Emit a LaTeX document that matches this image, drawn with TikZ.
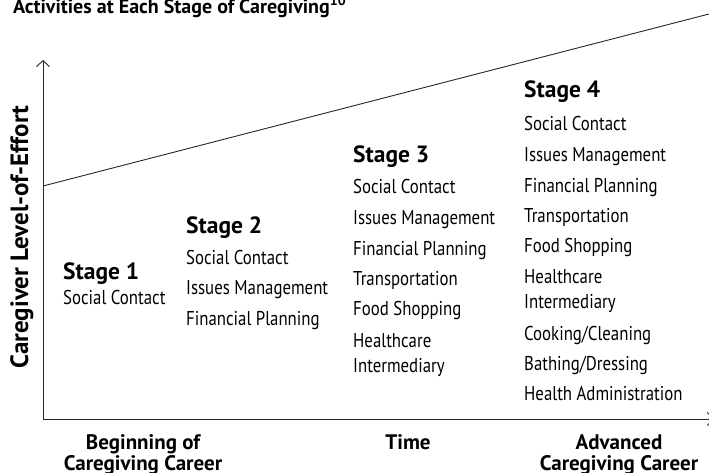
\documentclass[tikz,border=0pt]{standalone}
\usepackage{fontspec}
\setmainfont{PT Sans}
\newfontfamily\narrowfont[FakeStretch=0.84]{PT Sans}
\usetikzlibrary{arrows.meta}

\tikzset{
    stagehead/.style={font=\bfseries\fontsize{23.5}{26}\selectfont, anchor=base west, inner sep=0pt},
    activity/.style={font=\narrowfont\fontsize{20}{24}\selectfont, anchor=base west, inner sep=0pt},
    axislabel/.style={font=\bfseries\fontsize{21}{24}\selectfont, anchor=base, inner sep=0pt},
    axisline/.style={line width=0.9pt, draw=black!85, -{Straight Barb[length=6pt,width=13pt]}},
}

\begin{document}
\begin{tikzpicture}[x=1pt,y=-1pt]
    \useasboundingbox (0,0) rectangle (709,472);

    % Title (cut at the top edge)
    \node[font=\bfseries\fontsize{20}{24}\selectfont, anchor=base west, inner sep=0pt] (title) at (13,13)
        {Activities at Each Stage of Caregiving\textsuperscript{10}};

    % Axes
    \coordinate (origin) at (43,419);
    \coordinate (ytop) at (43,60);
    \coordinate (xend) at (714,419);
    \draw[axisline] (origin) -- (ytop); % y-axis
    \draw[axisline] (origin) -- (xend); % x-axis

    % Level-of-effort line
    \coordinate (effort0) at (43,186);
    \coordinate (effort1) at (709,14);
    \draw[line width=0.9pt, black!85] (effort0) -- (effort1);

    % Axis labels
    \node[font=\bfseries\fontsize{25}{28}\selectfont, rotate=90, anchor=base, inner sep=0pt] (ylabel) at (28,237) {Caregiver Level-of-Effort};
    \node[axislabel] (begin1) at (143,449) {Beginning of};
    \node[axislabel] (begin2) at (143,470) {Caregiving Career};
    \node[axislabel] (time) at (408,449) {Time};
    \node[axislabel] (adv1) at (619,449) {Advanced};
    \node[axislabel] (adv2) at (619,470) {Caregiving Career};

    % Stage 1
    \node[stagehead] (stage1) at (63,279) {Stage 1};
    \node[activity] (s1-1) at (63,304) {Social Contact};

    % Stage 2
    \node[stagehead] (stage2) at (186,233) {Stage 2};
    \foreach \y/\txt [count=\i] in {264/Social Contact, 294/Issues Management, 325/Financial Planning}
        \node[activity] (s2-\i) at (186,\y) {\txt};

    % Stage 3
    \node[stagehead] (stage3) at (353,162) {Stage 3};
    \foreach \y/\txt [count=\i] in {193/Social Contact, 224/Issues Management, 255/Financial Planning,
        285/Transportation, 315/Food Shopping, 347/Healthcare, 372/Intermediary}
        \node[activity] (s3-\i) at (353,\y) {\txt};

    % Stage 4
    \node[stagehead] (stage4) at (524,97) {Stage 4};
    \foreach \y/\txt [count=\i] in {130/Social Contact, 161/Issues Management, 192/Financial Planning,
        222/Transportation, 252/Food Shopping, 283/Healthcare, 308/Intermediary,
        340/{Cooking/Cleaning}, 370/{Bathing/Dressing}, 400/Health Administration}
        \node[activity] (s4-\i) at (524,\y) {\txt};

\end{tikzpicture}
\end{document}
